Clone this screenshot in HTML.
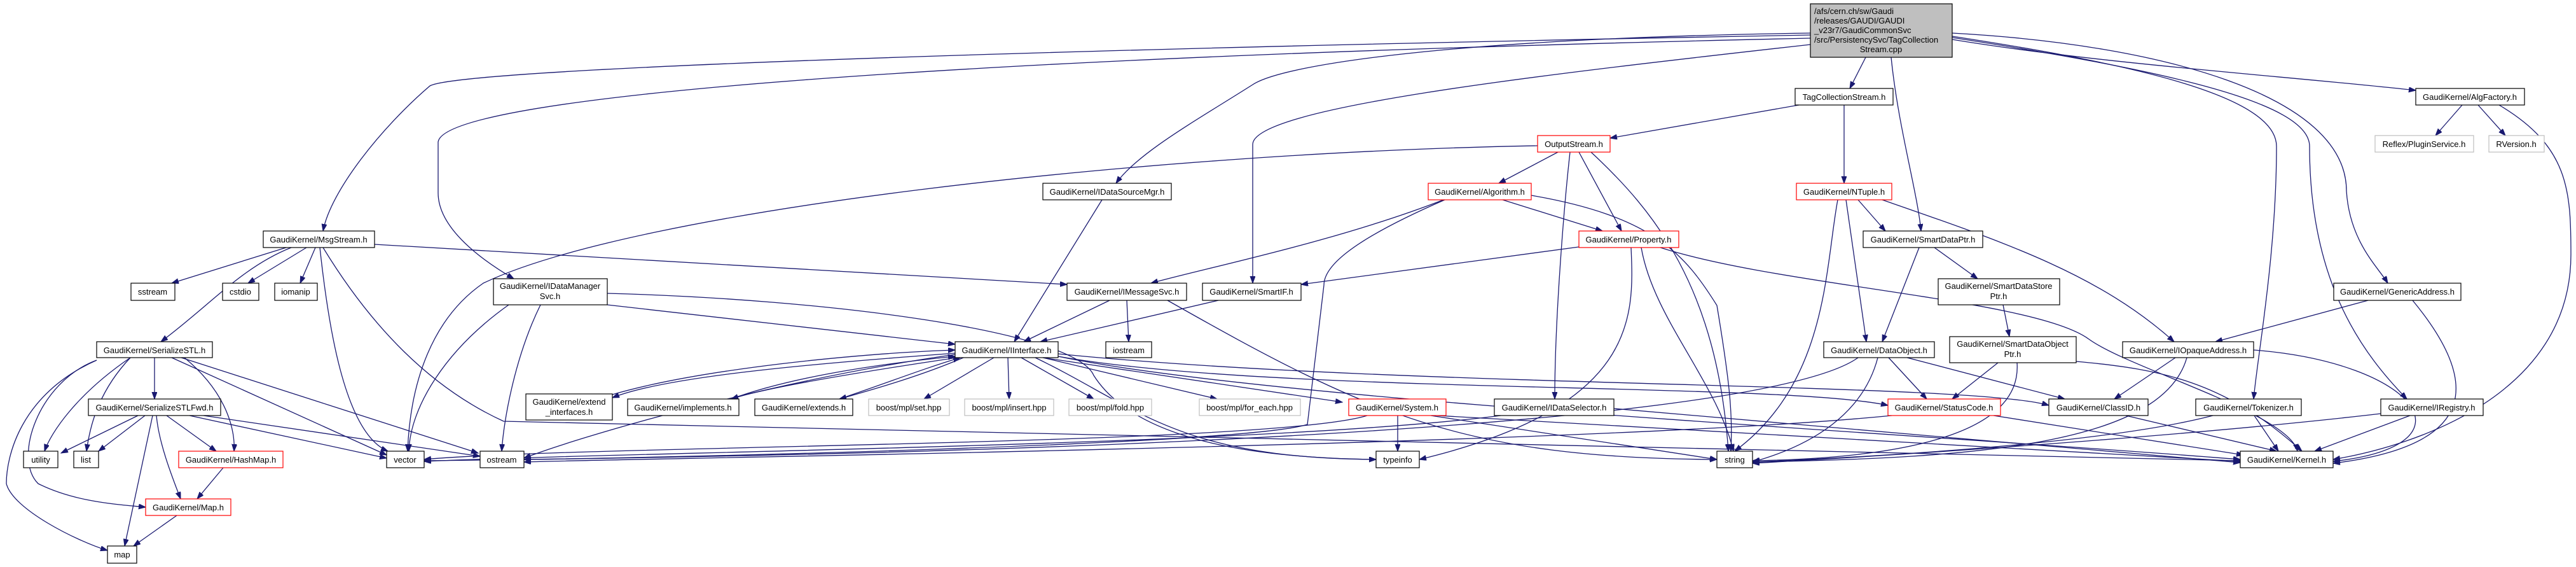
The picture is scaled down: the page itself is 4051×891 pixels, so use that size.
<!DOCTYPE html>
<html><head><meta charset="utf-8"><style>
html,body{margin:0;padding:0;background:#fff;}
svg{display:block;}
text{font-family:"Liberation Sans",Arial,sans-serif;font-size:13px;fill:#000;}
.e{fill:none;stroke:#191970;stroke-width:1.3;marker-end:url(#a);}
.n{fill:#fff;stroke:#000;stroke-width:1.2;}
.r{fill:#fff;stroke:#ff0000;stroke-width:1.2;}
.g{fill:#fff;stroke:#bfbfbf;stroke-width:1.2;}
</style></head><body>
<svg width="4051" height="891" viewBox="0 0 4051 891" xmlns="http://www.w3.org/2000/svg">
<defs><marker id="a" markerUnits="userSpaceOnUse" markerWidth="12" markerHeight="10" refX="11" refY="4" orient="auto"><path d="M0,0 L11,4 L0,8 z" fill="#191970" stroke="#191970"/></marker></defs>
<g>
<path class="e" d="M2847,55 C1500,80 720,110 676,135 C600,200 520,300 508,363"/>
<path class="e" d="M2847,60 C1500,90 700,150 689,223 L689,303 C689,360 760,410 808,438"/>
<path class="e" d="M2847,52 C2300,60 2020,100 1970,133 C1880,190 1790,240 1755,288"/>
<path class="e" d="M2847,70 C2400,120 1970,170 1970,227 L1970,445"/>
<path class="e" d="M2934,90 L2909,139"/>
<path class="e" d="M2974,90 C2985,200 3015,300 3021,363"/>
<path class="e" d="M3070,62 C3300,100 3600,120 3799,142"/>
<path class="e" d="M3070,52 C3400,70 3690,150 3690,300 C3695,380 3740,420 3755,445"/>
<path class="e" d="M3070,57 C3350,100 3580,150 3580,230 C3580,400 3550,560 3544,627"/>
<path class="e" d="M3070,59 C3400,110 3632,160 3632,230 C3632,450 3720,560 3785,627"/>
<path class="e" d="M3872,165 L3830,213"/>
<path class="e" d="M3897,165 L3940,213"/>
<path class="e" d="M3930,165 C4040,230 4043,300 4043,400 C4043,620 3800,700 3669,722"/>
<path class="e" d="M2900,165 L2900,288"/>
<path class="e" d="M2829,165 L2532,217"/>
<path class="e" d="M2450,239 L2357,288"/>
<path class="e" d="M2483,239 L2550,363"/>
<path class="e" d="M2469,239 C2460,320 2445,500 2445,627"/>
<path class="e" d="M2502,239 C2600,330 2700,450 2718,709"/>
<path class="e" d="M2418,229 C1800,240 1000,330 760,445 C680,500 645,600 641,709"/>
<path class="e" d="M2270,314 C2100,380 1900,420 1810,445"/>
<path class="e" d="M2363,314 L2520,363"/>
<path class="e" d="M2272,314 C2120,380 2082,420 2082,448 L2056,667 C1950,700 1000,720 824,722"/>
<path class="e" d="M2408,307 C2600,340 2650,400 2700,480 C2720,600 2725,650 2722,709"/>
<path class="e" d="M2483,388 L2046,447"/>
<path class="e" d="M2565,389 C2570,500 2575,640 2232,722"/>
<path class="e" d="M2581,389 C2600,500 2700,600 2726,709"/>
<path class="e" d="M2611,389 C2800,450 3200,470 3285,533 C3350,580 3600,650 3613,709"/>
<path class="e" d="M1733,314 L1595,537"/>
<path class="e" d="M450,389 L270,445"/>
<path class="e" d="M482,389 L390,445"/>
<path class="e" d="M496,389 L472,445"/>
<path class="e" d="M458,389 C380,420 330,480 253,537"/>
<path class="e" d="M503,389 C515,500 540,680 610,709"/>
<path class="e" d="M589,384 L1678,447"/>
<path class="e" d="M508,389 C600,540 700,620 792,662 L3523,724"/>
<path class="e" d="M955,479 L1502,541"/>
<path class="e" d="M800,479 C700,550 645,640 643,709"/>
<path class="e" d="M850,479 C810,560 792,660 789,709"/>
<path class="e" d="M955,461 C1300,470 1690,520 1720,590 C1790,700 2000,720 2164,722"/>
<path class="e" d="M1745,472 L1610,537"/>
<path class="e" d="M1772,472 L1775,537"/>
<path class="e" d="M1836,472 C2150,650 2300,720 2700,722"/>
<path class="e" d="M1916,472 L1636,537"/>
<path class="e" d="M1563,562 L1453,627"/>
<path class="e" d="M1585,562 L1587,627"/>
<path class="e" d="M1606,562 L1720,627"/>
<path class="e" d="M1640,562 L1914,627"/>
<path class="e" d="M1640,562 L2111,632"/>
<path class="e" d="M1628,562 C1790,640 1850,720 2164,722"/>
<path class="e" d="M1502,557 C1200,600 900,690 824,720"/>
<path class="e" d="M1664,560 C2000,620 2800,600 2969,637"/>
<path class="e" d="M1664,556 C2200,610 3100,600 3222,637"/>
<path class="e" d="M1664,560 C2000,630 3000,680 3523,722"/>
<path class="e" d="M963,620 C1100,580 1350,555 1502,550"/>
<path class="e" d="M1502,555 C1300,570 1050,590 963,625"/>
<path class="e" d="M1150,627 C1250,590 1400,570 1502,560"/>
<path class="e" d="M1505,562 C1350,585 1200,610 1150,627"/>
<path class="e" d="M1320,627 C1400,600 1450,580 1510,562"/>
<path class="e" d="M1515,562 C1450,590 1380,610 1320,627"/>
<path class="e" d="M2198,653 L2198,709"/>
<path class="e" d="M2250,653 L2700,722"/>
<path class="e" d="M2260,653 L3523,725"/>
<path class="e" d="M2150,653 C2000,700 900,700 667,722"/>
<path class="e" d="M2360,653 C2000,700 1000,710 667,725"/>
<path class="e" d="M2538,642 L3523,727"/>
<path class="e" d="M2903,314 L2935,537"/>
<path class="e" d="M2922,314 L2965,363"/>
<path class="e" d="M2890,314 C2870,420 2875,600 2728,709"/>
<path class="e" d="M2960,314 C3150,380 3300,430 3419,537"/>
<path class="e" d="M3018,389 L2960,537"/>
<path class="e" d="M3042,389 L3110,438"/>
<path class="e" d="M3150,479 L3160,529"/>
<path class="e" d="M3142,570 L3070,627"/>
<path class="e" d="M3172,570 C3180,680 3000,720 2756,724"/>
<path class="e" d="M3265,568 C3400,580 3500,600 3620,709"/>
<path class="e" d="M2970,562 L3030,627"/>
<path class="e" d="M2999,562 L3247,627"/>
<path class="e" d="M2953,562 C2930,650 2850,700 2756,726"/>
<path class="e" d="M2922,562 C2800,650 2000,710 667,724"/>
<path class="e" d="M3421,562 L3325,627"/>
<path class="e" d="M3439,562 C3400,700 3100,720 2756,726"/>
<path class="e" d="M3544,550 C3800,570 3900,700 3669,725"/>
<path class="e" d="M3724,472 L3484,537"/>
<path class="e" d="M3794,472 C3900,600 3900,700 3669,728"/>
<path class="e" d="M3135,653 L3528,715"/>
<path class="e" d="M2975,653 C2500,700 1000,720 824,726"/>
<path class="e" d="M3343,653 L3580,709"/>
<path class="e" d="M3545,653 L3583,709"/>
<path class="e" d="M3480,653 C3300,700 2900,720 2756,726"/>
<path class="e" d="M3790,653 L3640,709"/>
<path class="e" d="M3744,650 C3400,690 2900,720 2756,728"/>
<path class="e" d="M243,562 L243,627"/>
<path class="e" d="M205,562 C120,620 80,680 70,709"/>
<path class="e" d="M205,562 C150,620 140,680 136,709"/>
<path class="e" d="M290,562 C360,620 370,680 368,709"/>
<path class="e" d="M270,562 L608,715"/>
<path class="e" d="M285,562 L752,712"/>
<path class="e" d="M152,566 C60,600 20,720 60,760 C120,790 190,793 229,797"/>
<path class="e" d="M152,566 C30,620 10,720 10,760 C20,800 120,850 169,865"/>
<path class="e" d="M217,653 L96,712"/>
<path class="e" d="M228,653 L155,709"/>
<path class="e" d="M262,653 L340,709"/>
<path class="e" d="M246,653 C250,700 275,760 284,784"/>
<path class="e" d="M240,653 L196,858"/>
<path class="e" d="M298,653 L608,720"/>
<path class="e" d="M320,653 L755,717"/>
<path class="e" d="M351,735 L310,784"/>
<path class="e" d="M278,810 L210,858"/>
</g>
<g text-anchor="middle">
<rect x="2847" y="6" width="223" height="84" fill="#bfbfbf" stroke="#000" stroke-width="1.2"/>
<text x="2853" y="22" text-anchor="start">/afs/cern.ch/sw/Gaudi</text>
<text x="2853" y="37" text-anchor="start">/releases/GAUDI/GAUDI</text>
<text x="2853" y="52" text-anchor="start">_v23r7/GaudiCommonSvc</text>
<text x="2853" y="67" text-anchor="start">/src/PersistencySvc/TagCollection</text>
<text x="2958" y="82">Stream.cpp</text>

<rect class="n" x="2823" y="139" width="154" height="26"/><text x="2900" y="157">TagCollectionStream.h</text>
<rect class="n" x="3799" y="139" width="171" height="26"/><text x="3884" y="157">GaudiKernel/AlgFactory.h</text>
<rect class="g" x="3735" y="213" width="155" height="26"/><text x="3812" y="231">Reflex/PluginService.h</text>
<rect class="g" x="3914" y="213" width="87" height="26"/><text x="3957" y="231">RVersion.h</text>
<rect class="r" x="2418" y="213" width="114" height="26"/><text x="2475" y="231">OutputStream.h</text>
<rect class="n" x="1640" y="288" width="202" height="26"/><text x="1741" y="306">GaudiKernel/IDataSourceMgr.h</text>
<rect class="r" x="2246" y="288" width="162" height="26"/><text x="2327" y="306">GaudiKernel/Algorithm.h</text>
<rect class="r" x="2825" y="288" width="150" height="26"/><text x="2900" y="306">GaudiKernel/NTuple.h</text>
<rect class="n" x="414" y="363" width="175" height="26"/><text x="501" y="381">GaudiKernel/MsgStream.h</text>
<rect class="r" x="2483" y="363" width="157" height="26"/><text x="2561" y="381">GaudiKernel/Property.h</text>
<rect class="n" x="2930" y="363" width="188" height="26"/><text x="3024" y="381">GaudiKernel/SmartDataPtr.h</text>
<rect class="n" x="776" y="438" width="179" height="41"/><text x="865" y="454">GaudiKernel/IDataManager</text><text x="865" y="470">Svc.h</text>
<rect class="n" x="206" y="445" width="69" height="27"/><text x="240" y="463">sstream</text>
<rect class="n" x="350" y="445" width="57" height="27"/><text x="378" y="463">cstdio</text>
<rect class="n" x="432" y="445" width="67" height="27"/><text x="465" y="463">iomanip</text>
<rect class="n" x="1678" y="445" width="188" height="27"/><text x="1772" y="463">GaudiKernel/IMessageSvc.h</text>
<rect class="n" x="1891" y="445" width="155" height="27"/><text x="1968" y="463">GaudiKernel/SmartIF.h</text>
<rect class="n" x="3048" y="438" width="191" height="41"/><text x="3143" y="454">GaudiKernel/SmartDataStore</text><text x="3143" y="470">Ptr.h</text>
<rect class="n" x="3670" y="445" width="200" height="27"/><text x="3770" y="463">GaudiKernel/GenericAddress.h</text>
<rect class="n" x="152" y="537" width="182" height="25"/><text x="243" y="555">GaudiKernel/SerializeSTL.h</text>
<rect class="n" x="1502" y="537" width="162" height="25"/><text x="1583" y="555">GaudiKernel/IInterface.h</text>
<rect class="n" x="1739" y="537" width="72" height="25"/><text x="1775" y="555">iostream</text>
<rect class="n" x="2868" y="537" width="174" height="25"/><text x="2955" y="555">GaudiKernel/DataObject.h</text>
<rect class="n" x="3066" y="529" width="199" height="41"/><text x="3165" y="545">GaudiKernel/SmartDataObject</text><text x="3165" y="561">Ptr.h</text>
<rect class="n" x="3338" y="537" width="206" height="25"/><text x="3441" y="555">GaudiKernel/IOpaqueAddress.h</text>
<rect class="n" x="139" y="627" width="208" height="26"/><text x="243" y="645">GaudiKernel/SerializeSTLFwd.h</text>
<rect class="n" x="827" y="619" width="136" height="41"/><text x="895" y="636">GaudiKernel/extend</text><text x="895" y="652">_interfaces.h</text>
<rect class="n" x="987" y="627" width="175" height="26"/><text x="1074" y="645">GaudiKernel/implements.h</text>
<rect class="n" x="1187" y="627" width="154" height="26"/><text x="1264" y="645">GaudiKernel/extends.h</text>
<rect class="g" x="1366" y="627" width="127" height="26"/><text x="1429" y="645">boost/mpl/set.hpp</text>
<rect class="g" x="1517" y="627" width="140" height="26"/><text x="1587" y="645">boost/mpl/insert.hpp</text>
<rect class="g" x="1681" y="627" width="130" height="26"/><text x="1746" y="645">boost/mpl/fold.hpp</text>
<rect class="g" x="1886" y="627" width="159" height="26"/><text x="1965" y="645">boost/mpl/for_each.hpp</text>
<rect class="r" x="2121" y="627" width="153" height="26"/><text x="2197" y="645">GaudiKernel/System.h</text>
<rect class="n" x="2350" y="627" width="188" height="26"/><text x="2444" y="645">GaudiKernel/IDataSelector.h</text>
<rect class="r" x="2969" y="627" width="177" height="26"/><text x="3057" y="645">GaudiKernel/StatusCode.h</text>
<rect class="n" x="3222" y="627" width="156" height="26"/><text x="3300" y="645">GaudiKernel/ClassID.h</text>
<rect class="n" x="3453" y="627" width="166" height="26"/><text x="3536" y="645">GaudiKernel/Tokenizer.h</text>
<rect class="n" x="3744" y="627" width="161" height="26"/><text x="3824" y="645">GaudiKernel/IRegistry.h</text>
<rect class="n" x="37" y="709" width="54" height="26"/><text x="64" y="727">utility</text>
<rect class="n" x="116" y="709" width="39" height="26"/><text x="135" y="727">list</text>
<rect class="r" x="281" y="709" width="164" height="26"/><text x="363" y="727">GaudiKernel/HashMap.h</text>
<rect class="n" x="608" y="709" width="59" height="26"/><text x="637" y="727">vector</text>
<rect class="n" x="755" y="709" width="69" height="26"/><text x="789" y="727">ostream</text>
<rect class="n" x="2164" y="709" width="68" height="26"/><text x="2198" y="727">typeinfo</text>
<rect class="n" x="2700" y="709" width="56" height="26"/><text x="2728" y="727">string</text>
<rect class="n" x="3523" y="709" width="146" height="26"/><text x="3596" y="727">GaudiKernel/Kernel.h</text>
<rect class="r" x="229" y="784" width="134" height="26"/><text x="296" y="802">GaudiKernel/Map.h</text>
<rect class="n" x="169" y="858" width="46" height="27"/><text x="192" y="876">map</text>
</g>
</svg>
</body></html>
